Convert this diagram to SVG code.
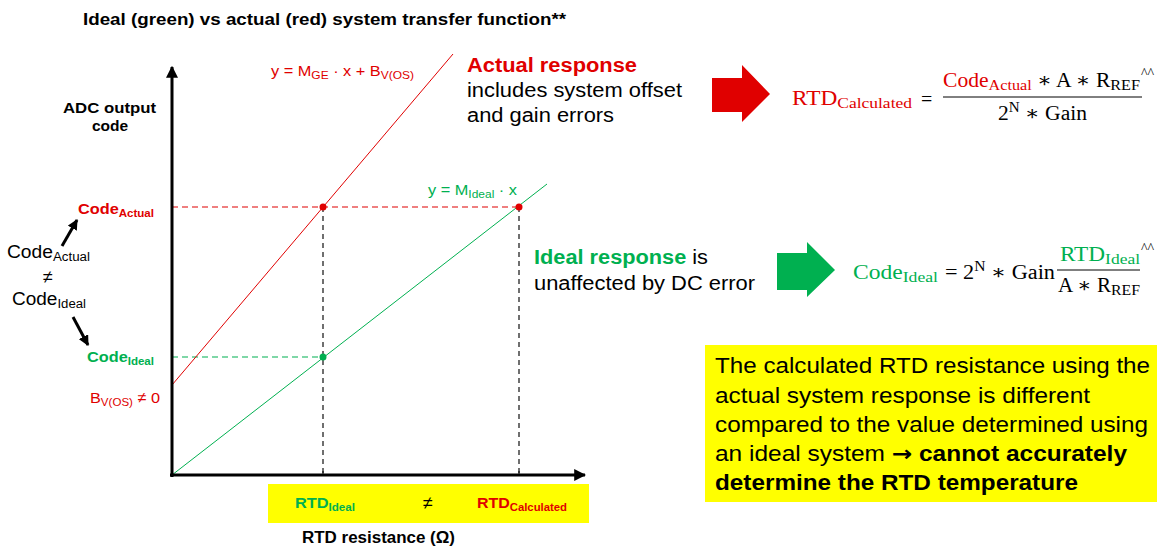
<svg xmlns="http://www.w3.org/2000/svg" width="1157" height="548" viewBox="0 0 1157 548">
<style>
.s{font-family:"Liberation Sans",Arial,sans-serif}
.m{font-family:"Liberation Serif","DejaVu Serif",serif}
.b{font-weight:bold}
.r{fill:#e00000}
.g{fill:#00b050}
.k{fill:#000}
</style>
<defs>
<marker id="ah" viewBox="0 0 10 10" refX="9" refY="5" markerWidth="4" markerHeight="4" orient="auto" markerUnits="strokeWidth"><path d="M0,0 L10,5 L0,10 Z" fill="#000"/></marker>
<marker id="ah2" viewBox="0 0 10 10" refX="9" refY="5" markerWidth="3.5" markerHeight="3.5" orient="auto" markerUnits="strokeWidth"><path d="M0,0 L10,5 L0,10 Z" fill="#000"/></marker>
</defs>
<rect width="1157" height="548" fill="#fff"/>
<text id="title" class="s b" x="83" y="25" font-size="16.5" textLength="483" lengthAdjust="spacingAndGlyphs">Ideal (green) vs actual (red) system transfer function**</text>

<g id="connectors">
<rect x="268" y="484" width="321" height="39" fill="#ffff00"/>
<line x1="172" y1="207" x2="519" y2="207" stroke="#e00000" stroke-width="1.2" stroke-dasharray="6,4"/>
<line x1="172" y1="357" x2="323" y2="357" stroke="#00b050" stroke-width="1.2" stroke-dasharray="6,4"/>
<line x1="323" y1="207" x2="323" y2="475" stroke="#404040" stroke-width="1.5" stroke-dasharray="5,4"/>
<line x1="519" y1="207" x2="519" y2="475" stroke="#404040" stroke-width="1.5" stroke-dasharray="5,4"/>
<line x1="172" y1="385" x2="453" y2="54" stroke="#e00000" stroke-width="1"/>
<line x1="172" y1="475" x2="547" y2="184" stroke="#00b050" stroke-width="1"/>
<line x1="172" y1="477" x2="172" y2="67" stroke="#000" stroke-width="3" marker-end="url(#ah)"/>
<line x1="170" y1="475" x2="585" y2="475" stroke="#000" stroke-width="3" marker-end="url(#ah)"/>
<line x1="323" y1="471" x2="323" y2="475" stroke="#000" stroke-width="1"/>
<line x1="519" y1="471" x2="519" y2="475" stroke="#000" stroke-width="1"/>
<line x1="62" y1="246" x2="77" y2="220" stroke="#000" stroke-width="3" marker-end="url(#ah2)"/>
<line x1="73" y1="317" x2="88" y2="345" stroke="#000" stroke-width="3" marker-end="url(#ah2)"/>
<circle cx="323" cy="207" r="3.5" fill="#e00000"/>
<circle cx="519" cy="207" r="3.5" fill="#e00000"/>
<circle cx="323" cy="357" r="3.5" fill="#00b050"/>
</g>

<g id="yaxis-label">
<text class="s b" font-size="15.5" x="63" y="113" textLength="93" lengthAdjust="spacingAndGlyphs">ADC output</text>
<text class="s b" font-size="15.5" x="110" y="131" text-anchor="middle">code</text>
</g>
<g id="code-actual-label"><text class="s b r" x="78" y="214" font-size="15.5" textLength="76" lengthAdjust="spacingAndGlyphs">Code<tspan font-size="11" dy="3">Actual</tspan></text></g>
<g id="code-ideal-label"><text class="s b g" x="87" y="362" font-size="15.5" textLength="67" lengthAdjust="spacingAndGlyphs">Code<tspan font-size="11" dy="3">Ideal</tspan></text></g>
<g id="neq-left">
<text class="s" x="7" y="258" font-size="18" textLength="83" lengthAdjust="spacingAndGlyphs">Code<tspan font-size="12.5" dy="3">Actual</tspan></text>
<text class="s" x="48" y="283" font-size="18" text-anchor="middle">≠</text>
<text class="s" x="12" y="305" font-size="18" textLength="74" lengthAdjust="spacingAndGlyphs">Code<tspan font-size="12.5" dy="3">Ideal</tspan></text>
</g>
<g id="bvos"><text class="s r" x="90" y="403" font-size="15.5" textLength="70" lengthAdjust="spacingAndGlyphs">B<tspan font-size="11" dy="3">V(OS)</tspan><tspan dy="-3"> ≠ 0</tspan></text></g>
<g id="eq-actual-line"><text class="s r" x="271" y="76" font-size="15" textLength="143" lengthAdjust="spacingAndGlyphs">y = M<tspan font-size="11" dy="3">GE</tspan><tspan dy="-3"> · x + B</tspan><tspan font-size="11" dy="3">V(OS)</tspan></text></g>
<g id="eq-ideal-line"><text class="s g" x="428" y="195" font-size="15" textLength="89" lengthAdjust="spacingAndGlyphs">y = M<tspan font-size="11" dy="3">Ideal</tspan><tspan dy="-3"> · x</tspan></text></g>

<g id="actual-text">
<text class="s b r" x="467" y="72" font-size="20" textLength="170" lengthAdjust="spacingAndGlyphs">Actual response</text>
<text class="s" x="467" y="97" font-size="20" textLength="215" lengthAdjust="spacingAndGlyphs">includes system offset</text>
<text class="s" x="467" y="122" font-size="20" textLength="147" lengthAdjust="spacingAndGlyphs">and gain errors</text>
</g>
<g id="ideal-text">
<text class="s" x="534" y="264" font-size="20" textLength="174" lengthAdjust="spacingAndGlyphs"><tspan class="b g">Ideal response</tspan> is</text>
<text class="s" x="534" y="290" font-size="20" textLength="221" lengthAdjust="spacingAndGlyphs">unaffected by DC error</text>
</g>

<g id="red-arrow"><path d="M712,78 H742 V65 L770,94 L742,122 V112 H712 Z" fill="#e00000"/></g>
<g id="green-arrow"><path d="M777,253 H807 V242 L835,270 L807,297 V290 H777 Z" fill="#00b050"/></g>

<g id="eq-rtd-calc" class="m" font-size="20">
<text x="792" y="105" class="r" textLength="120" lengthAdjust="spacingAndGlyphs">RTD<tspan font-size="15" dy="3">Calculated</tspan></text>
<text x="921" y="106">=</text>
<line x1="943" y1="97" x2="1142" y2="97" stroke="#000" stroke-width="1"/>
<text x="943" y="87" textLength="197" lengthAdjust="spacingAndGlyphs"><tspan class="r">Code</tspan><tspan class="r" font-size="15" dy="3">Actual</tspan><tspan dy="-3"> ∗ A ∗ R</tspan><tspan font-size="15" dy="3">REF</tspan></text>
<text x="1141" y="78" font-size="14">^^</text>
<text x="998" y="120" textLength="89" lengthAdjust="spacingAndGlyphs">2<tspan font-size="14" dy="-8">N</tspan><tspan dy="8"> ∗ Gain</tspan></text>
</g>

<g id="eq-code-ideal" class="m" font-size="20">
<text x="853" y="279" class="g" textLength="85" lengthAdjust="spacingAndGlyphs">Code<tspan font-size="15" dy="3">Ideal</tspan></text>
<text x="945" y="279" textLength="110" lengthAdjust="spacingAndGlyphs">= 2<tspan font-size="14" dy="-8">N</tspan><tspan dy="8"> ∗ Gain</tspan></text>
<line x1="1057" y1="270" x2="1140" y2="270" stroke="#000" stroke-width="1"/>
<text x="1060" y="261" class="g" textLength="80" lengthAdjust="spacingAndGlyphs">RTD<tspan font-size="15" dy="3">Ideal</tspan></text>
<text x="1141" y="253" font-size="14">^^</text>
<text x="1058" y="292" textLength="82" lengthAdjust="spacingAndGlyphs">A ∗ R<tspan font-size="15" dy="3">REF</tspan></text>
</g>

<g id="bottom-labels">
<text class="s b g" x="295" y="508" font-size="15.5" textLength="60" lengthAdjust="spacingAndGlyphs">RTD<tspan font-size="11" dy="3">Ideal</tspan></text>
<text class="s" x="428" y="509" font-size="18" text-anchor="middle">≠</text>
<text class="s b r" x="477" y="508" font-size="15.5" textLength="90" lengthAdjust="spacingAndGlyphs">RTD<tspan font-size="11" dy="3">Calculated</tspan></text>
<text class="s b" x="302" y="543" font-size="16" textLength="153" lengthAdjust="spacingAndGlyphs">RTD resistance (Ω)</text>
</g>

<g id="conclusion">
<rect x="705" y="345" width="452" height="157" fill="#ffff00"/>
<text class="s" font-size="21.5" x="715" y="373" textLength="435" lengthAdjust="spacingAndGlyphs">The calculated RTD resistance using the</text>
<text class="s" font-size="21.5" x="715" y="403" textLength="375" lengthAdjust="spacingAndGlyphs">actual system response is different</text>
<text class="s" font-size="21.5" x="715" y="432" textLength="433" lengthAdjust="spacingAndGlyphs">compared to the value determined using</text>
<text class="s" font-size="21.5" x="715" y="461" textLength="412" lengthAdjust="spacingAndGlyphs">an ideal system <tspan font-family="'DejaVu Sans',sans-serif" font-weight="bold">→</tspan> <tspan class="b">cannot accurately</tspan></text>
<text class="s b" font-size="21.5" x="715" y="490" textLength="363" lengthAdjust="spacingAndGlyphs">determine the RTD temperature</text>
</g>
</svg>
